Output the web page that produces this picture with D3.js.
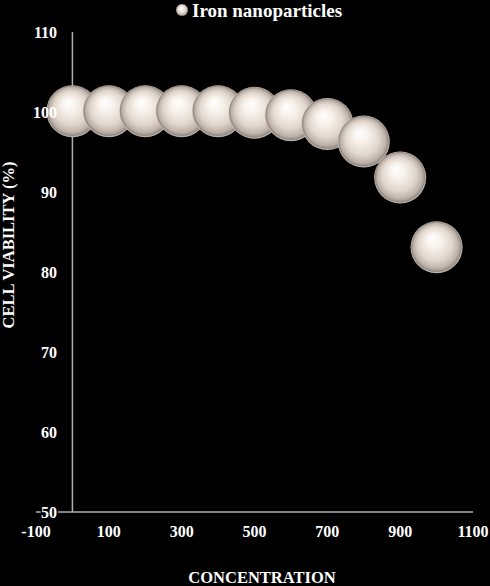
<!DOCTYPE html>
<html>
<head>
<meta charset="utf-8">
<script src="https://cdn.jsdelivr.net/npm/d3@7"></script>
<style>
  body { margin: 0; background: #000; }
  text { font-family: "Liberation Serif", "Times New Roman", serif; font-weight: bold; fill: #fff; }
</style>
</head>
<body>
<div id="chart"></div>
<script>
// concentration values and viability (%)
const concentrations = [0, 100, 200, 300, 400, 500, 600, 700, 800, 900, 1000];
const viability = [100.1, 100.1, 100.1, 100.1, 100.1, 99.9, 99.6, 98.5, 96.3, 91.8, 83.1];
const xTicks = [-100, 100, 300, 500, 700, 900, 1100];
const yTicks = [50, 60, 70, 80, 90, 100, 110];
const seriesName = "Iron nanoparticles";

const W = 490, H = 586;
const plotTop = 32, plotBottom = 512;

const svg = d3.select("#chart").append("svg").attr("width", W).attr("height", H)
  .style("background", "#000");

const defs = svg.append("defs");
const grad = defs.append("radialGradient").attr("id", "ball")
  .attr("cx", "0.5").attr("cy", "0.5").attr("r", "0.5")
  .attr("fx", "0.42").attr("fy", "0.32");
[[0, "#ffffff"], [0.3, "#f7f1eb"], [0.65, "#e0d6cd"], [0.87, "#bcb1a8"], [0.95, "#958b83"], [1, "#cfc5bc"]]
  .forEach(s => grad.append("stop").attr("offset", s[0]).attr("stop-color", s[1]));

// x axis spans -100..1100, y axis sits at x = 0
const x = d3.scaleLinear().domain([-100, 1100]).range([36, 473]);
const y = d3.scaleLinear().domain([50, 110]).range([plotBottom, plotTop]);

// axis lines
svg.append("line").attr("x1", x(-100)).attr("x2", x(1100)).attr("y1", y(50)).attr("y2", y(50))
  .attr("stroke", "#b0b0b0").attr("stroke-width", 1.5);
svg.append("line").attr("x1", x(0)).attr("x2", x(0)).attr("y1", y(110)).attr("y2", y(50))
  .attr("stroke", "#b0b0b0").attr("stroke-width", 1.5);

// x tick labels
svg.append("g").selectAll("text").data(xTicks).enter().append("text")
  .attr("x", d => x(d)).attr("y", 537)
  .attr("text-anchor", "middle").attr("font-size", 16)
  .text(d => d);

// balls
svg.append("g").selectAll("circle").data(concentrations).enter().append("circle")
  .attr("cx", d => x(d))
  .attr("cy", (d, i) => y(viability[i]))
  .attr("r", 26)
  .attr("fill", "url(#ball)");

// y tick labels drawn over the balls (black halo on the bottom one hides the axis line)
svg.append("g").selectAll("text").data(yTicks).enter().append("text")
  .attr("x", 57).attr("y", d => y(d)).attr("dy", "0.35em")
  .attr("text-anchor", "end").attr("font-size", 16)
  .attr("stroke", d => d === yTicks[0] ? "#000" : "none")
  .attr("stroke-width", 3).attr("paint-order", "stroke")
  .text(d => d);

// axis titles
svg.append("text").attr("x", 262).attr("y", 583)
  .attr("text-anchor", "middle").attr("font-size", 16.5).text("CONCENTRATION");
svg.append("text").attr("transform", "translate(14,245) rotate(-90)")
  .attr("text-anchor", "middle").attr("font-size", 16.5).text("CELL VIABILITY (%)");

// legend
svg.append("circle").attr("cx", 182).attr("cy", 10).attr("r", 6).attr("fill", "url(#ball)");
svg.append("text").attr("x", 192).attr("y", 17).attr("font-size", 19).text(seriesName);
</script>
</body>
</html>
